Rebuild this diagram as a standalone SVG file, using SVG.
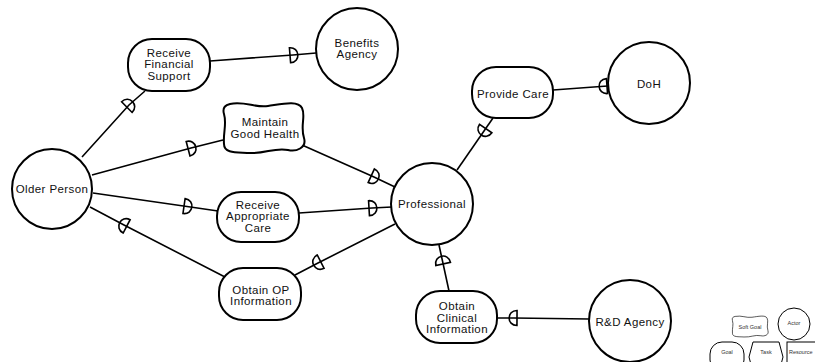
<svg xmlns="http://www.w3.org/2000/svg" width="815" height="362" viewBox="0 0 815 362">
<defs>
<style>
.n{fill:#fff;stroke:#000;stroke-width:2}
.c{fill:none;stroke:#000;stroke-width:1.6}
.t{font-family:"Liberation Sans",Arial,sans-serif;font-size:11.5px;letter-spacing:0.4px;fill:#111;text-anchor:middle}
.lg{fill:#fff;stroke:#000;stroke-width:1}
.lt{font-family:"Liberation Sans",Arial,sans-serif;font-size:5.5px;fill:#333;text-anchor:middle}
</style>
<marker id="dep" markerUnits="userSpaceOnUse" markerWidth="20" markerHeight="20" refX="0" refY="0" viewBox="-10 -10 20 20" orient="auto" overflow="visible">
<path d="M-3,-7.5 C7.5,-7.5 7.5,7.5 -3,7.5 Z" fill="none" stroke="#000" stroke-width="1.6"/>
</marker>
<path id="softgoal" d="M230,104 C245,101 255,108 268,106 C282,104 298,100 302,108 C306,116 300,126 304,138 C307,148 296,152 288,150 C275,147 265,154 250,153 C238,152 224,154 224,144 C223,132 227,124 224,114 C222,107 226,105 230,104 Z"/>
</defs>
<rect width="815" height="362" fill="#fff"/>
<g id="connectors">
<polyline class="c" marker-mid="url(#dep)" points="82,157 129,105 145,91"/>
<polyline class="c" marker-mid="url(#dep)" points="210,61 293,55 316,53"/>
<polyline class="c" marker-mid="url(#dep)" points="92,175 191,148 223,140"/>
<polyline class="c" marker-mid="url(#dep)" points="302,145 374,177 395,187"/>
<polyline class="c" marker-mid="url(#dep)" points="93,193 187,206.5 218,211"/>
<polyline class="c" marker-mid="url(#dep)" points="299,213 372,208 392,207"/>
<polyline class="c" marker-mid="url(#dep)" points="395,224 318,263 295,275"/>
<polyline class="c" marker-mid="url(#dep)" points="225,277 124,225 90,207"/>
<polyline class="c" marker-mid="url(#dep)" points="493,118 484,131 457,170"/>
<polyline class="c" marker-mid="url(#dep)" points="608,86 604,86.3 553,90"/>
<polyline class="c" marker-mid="url(#dep)" points="449,291 442.5,261 439,245"/>
<polyline class="c" marker-mid="url(#dep)" points="589,319 514,318 497,318"/>
</g>
<g id="older-person">
<circle class="n" cx="52" cy="189" r="40"/>
<text class="t" x="52" y="193">Older Person</text>
</g>
<g id="benefits-agency">
<circle class="n" cx="357" cy="49" r="41"/>
<text class="t" x="357" y="46.5">Benefits</text>
<text class="t" x="357" y="58">Agency</text>
</g>
<g id="doh">
<circle class="n" cx="649" cy="83" r="41"/>
<text class="t" x="649" y="87.5">DoH</text>
</g>
<g id="professional">
<circle class="n" cx="432" cy="204" r="41"/>
<text class="t" x="432" y="208">Professional</text>
</g>
<g id="rd-agency">
<circle class="n" cx="630" cy="321" r="41"/>
<text class="t" x="630" y="325.5">R&amp;D Agency</text>
</g>
<g id="receive-financial-support">
<rect class="n" x="128" y="39" width="82" height="52" rx="24"/>
<text class="t" x="169" y="56.5">Receive</text>
<text class="t" x="169" y="68">Financial</text>
<text class="t" x="169" y="79.5">Support</text>
</g>
<g id="maintain-good-health">
<use href="#softgoal" class="n"/>
<text class="t" x="265" y="126">Maintain</text>
<text class="t" x="265" y="137.5">Good Health</text>
</g>
<g id="receive-appropriate-care">
<rect class="n" x="217" y="192" width="82" height="50" rx="24"/>
<text class="t" x="258" y="208.5">Receive</text>
<text class="t" x="258" y="220">Appropriate</text>
<text class="t" x="258" y="231.5">Care</text>
</g>
<g id="obtain-op-information">
<rect class="n" x="219" y="268" width="82" height="52" rx="24"/>
<text class="t" x="261" y="293.5">Obtain OP</text>
<text class="t" x="261" y="305">Information</text>
</g>
<g id="provide-care">
<rect class="n" x="472" y="67" width="81" height="51" rx="24"/>
<text class="t" x="513" y="97.5">Provide Care</text>
</g>
<g id="obtain-clinical-information">
<rect class="n" x="416" y="291" width="81" height="52" rx="24"/>
<text class="t" x="457" y="310">Obtain</text>
<text class="t" x="457" y="321.5">Clinical</text>
<text class="t" x="457" y="333">Information</text>
</g>
<g id="legend">
<g id="legend-softgoal">
<use href="#softgoal" class="lg" style="stroke-width:1.5" vector-effect="non-scaling-stroke" transform="translate(732,316) scale(0.444,0.42) translate(-223,-103)"/>
<text class="lt" x="750" y="328.5">Soft Goal</text>
</g>
<g id="legend-actor">
<circle class="lg" cx="794" cy="324" r="16"/>
<text class="lt" x="794" y="325">Actor</text>
</g>
<g id="legend-goal">
<rect class="lg" x="710" y="342" width="34" height="30" rx="12"/>
<text class="lt" x="727" y="353.5">Goal</text>
</g>
<g id="legend-task">
<polygon class="lg" points="753,342 779,342 783,357 779,372 753,372 749,357"/>
<text class="lt" x="766" y="353.5">Task</text>
</g>
<g id="legend-resource">
<rect class="lg" x="787" y="342" width="40" height="30"/>
<text class="lt" x="789" y="353.5" style="text-anchor:start">Resource</text>
</g>
</g>
</svg>
